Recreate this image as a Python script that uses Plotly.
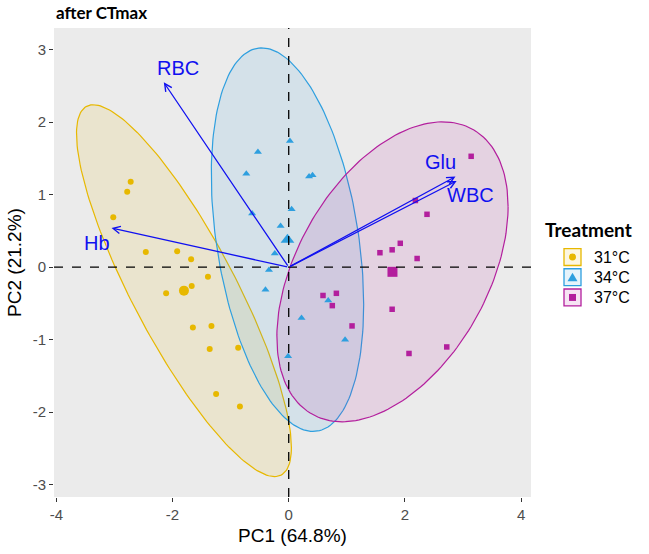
import numpy as np
import plotly.graph_objects as go

# ---------------- data ----------------
groups = ["31°C", "34°C", "37°C"]

pc1_31 = [-2.72, -2.78, -3.02, -2.46, -1.92, -1.68, -1.39, -2.11, -1.67, -1.65, -1.33, -1.36, -0.87, -1.25, -0.84]
pc2_31 = [1.18, 1.04, 0.69, 0.21, 0.22, 0.11, -0.13, -0.36, -0.26, -0.83, -0.81, -1.13, -1.11, -1.75, -1.92]

pc1_34 = [-0.53, -0.73, 0.02, 0.35, 0.41, 0.05, -0.63, -0.14, -0.24, -0.34, -0.40, 0.68, 0.22, -0.01, 0.97]
pc2_34 = [1.59, 1.29, 1.74, 1.25, 1.27, 0.80, 0.74, 0.57, 0.19, -0.04, -0.31, -0.46, -0.70, -1.23, -1.00]

pc1_37 = [3.14, 2.18, 2.38, 1.92, 1.78, 1.57, 2.21, 0.59, 0.82, 0.75, 1.78, 1.09, 2.72, 2.07]
pc2_37 = [1.53, 0.92, 0.73, 0.33, 0.24, 0.20, 0.12, -0.39, -0.36, -0.53, -0.58, -0.81, -1.10, -1.19]

# ellipse shape (covariance-like matrix: sxx, syy, sxy) per group
ell_sxx = [3.42, 1.72, 3.96]
ell_syy = [6.58, 7.00, 4.28]
ell_sxy = [-4.00, -1.17, 1.79]

# variable loadings (arrow tips)
var_names = ["RBC", "Hb", "Glu", "WBC"]
var_pc1 = [-2.15, -3.05, 2.87, 2.89]
var_pc2 = [2.55, 0.54, 1.25, 1.19]

x_ticks = [-4, -2, 0, 2, 4]
y_ticks = [-3, -2, -1, 0, 1, 2, 3]

# ---------------- style ----------------
colors = ["#E7B800", "#2E9FDF", "#B31F9D"]
fills = ["rgba(231,184,0,0.12)", "rgba(46,159,223,0.12)", "rgba(179,31,157,0.12)"]
symbols = ["circle", "triangle-up", "square"]
msize = [6, 7, 5.5]
csize = [10, 12, 10]
label_off = {"RBC": (0.25, 0.20), "Hb": (-0.25, -0.20), "Glu": (-0.25, 0.20), "WBC": (0.23, -0.20)}
arrow_col = "#1010F0"

xs = [pc1_31, pc1_34, pc1_37]
ys = [pc2_31, pc2_34, pc2_37]

fig = go.Figure()
t = np.linspace(0, 2 * np.pi, 200)
for i in range(3):
    cx, cy = np.mean(xs[i]), np.mean(ys[i])
    S = np.array([[ell_sxx[i], ell_sxy[i]], [ell_sxy[i], ell_syy[i]]])
    L = np.linalg.cholesky(S)
    pts = L @ np.vstack([np.cos(t), np.sin(t)])
    fig.add_trace(go.Scatter(x=cx + pts[0], y=cy + pts[1], mode="lines", fill="toself",
                             fillcolor=fills[i], line=dict(color=colors[i], width=1.2),
                             showlegend=False, hoverinfo="skip"))

for i in range(3):
    fig.add_trace(go.Scatter(x=xs[i], y=ys[i], mode="markers",
                             marker=dict(symbol=symbols[i], size=msize[i], color=colors[i]),
                             showlegend=False))
    fig.add_trace(go.Scatter(x=[np.mean(xs[i])], y=[np.mean(ys[i])], mode="markers",
                             marker=dict(symbol=symbols[i], size=csize[i], color=colors[i]),
                             showlegend=False))

# arrows
for n, vx, vy in zip(var_names, var_pc1, var_pc2):
    fig.add_annotation(x=vx, y=vy, ax=0, ay=0, xref="x", yref="y", axref="x", ayref="y",
                       text="", showarrow=True, arrowhead=5, arrowsize=1.1, arrowwidth=1.3,
                       arrowcolor=arrow_col, standoff=0)
    dx, dy = label_off[n]
    fig.add_annotation(x=vx + dx, y=vy + dy, xref="x", yref="y", text=n, showarrow=False,
                       font=dict(family="Liberation Sans, Arial", size=20, color=arrow_col))

# reference dashed lines
fig.add_shape(type="line", xref="paper", yref="y", x0=0, x1=1, y0=0, y1=0,
              line=dict(color="black", width=1.3, dash="dash"), layer="above")
fig.add_shape(type="line", xref="x", yref="paper", x0=0, x1=0, y0=0, y1=1,
              line=dict(color="black", width=1.3, dash="dash"), layer="above")

# title
fig.add_annotation(x=0, y=1.0, xref="paper", yref="paper", xanchor="left", yanchor="bottom",
                   yshift=3, text="<b>after CTmax</b>", showarrow=False,
                   font=dict(family="Lato", size=17, color="black"))

# manual legend
pw, ph = 477.0, 471.0
def px2paper(px, py):
    return (px - 54) / pw, (499 - py) / ph

tx, ty = px2paper(543, 230)
fig.add_annotation(x=tx, y=ty, xref="paper", yref="paper", xanchor="left", yanchor="middle",
                   text="<b>Treatment</b>", showarrow=False,
                   font=dict(family="Lato", size=19, color="black"))
for i, g in enumerate(groups):
    top = 249.5 + i * 20.3
    x0, y1 = px2paper(564, top)
    x1, y0 = px2paper(581, top + 17)
    fig.add_shape(type="rect", xref="paper", yref="paper", x0=x0, x1=x1, y0=y0, y1=y1,
                  line=dict(color=colors[i], width=1.3), fillcolor=fills[i])
    cxp, cyp = 572.5, top + 8.5
    if i == 0:
        a0, b1 = px2paper(cxp - 3.5, cyp - 3.5)
        a1, b0 = px2paper(cxp + 3.5, cyp + 3.5)
        fig.add_shape(type="circle", xref="paper", yref="paper", x0=a0, x1=a1, y0=b0, y1=b1,
                      line=dict(width=0), fillcolor=colors[i])
    elif i == 1:
        p1 = px2paper(cxp, cyp - 4.5)
        p2 = px2paper(cxp - 5, cyp + 4)
        p3 = px2paper(cxp + 5, cyp + 4)
        fig.add_shape(type="path", xref="paper", yref="paper",
                      path=f"M {p1[0]} {p1[1]} L {p2[0]} {p2[1]} L {p3[0]} {p3[1]} Z",
                      line=dict(width=0), fillcolor=colors[i])
    else:
        a0, b1 = px2paper(cxp - 3.5, cyp - 3.5)
        a1, b0 = px2paper(cxp + 3.5, cyp + 3.5)
        fig.add_shape(type="rect", xref="paper", yref="paper", x0=a0, x1=a1, y0=b0, y1=b1,
                      line=dict(width=0), fillcolor=colors[i])
    lx, ly = px2paper(592, top + 8.5)
    fig.add_annotation(x=lx, y=ly, xref="paper", yref="paper", xanchor="left", yanchor="middle",
                       text=g, showarrow=False,
                       font=dict(family="Liberation Sans, Arial", size=16, color="black"))

fig.update_layout(
    width=649, height=554,
    margin=dict(l=54, r=118, t=28, b=55),
    paper_bgcolor="white", plot_bgcolor="#EBEBEB",
    showlegend=False,
    xaxis=dict(range=[-4.04, 4.17], tickvals=x_ticks, ticktext=[str(v) for v in x_ticks],
               showgrid=False, zeroline=False, ticks="outside", ticklen=4, tickwidth=1.2,
               tickcolor="#333333", tickfont=dict(family="Liberation Sans, Arial", size=15, color="#4D4D4D"),
               title=dict(text="PC1 (64.8%)", font=dict(family="Liberation Sans, Arial", size=19, color="black"),
                          standoff=6)),
    yaxis=dict(range=[-3.17, 3.30], tickvals=y_ticks, ticktext=[str(v) for v in y_ticks],
               showgrid=False, zeroline=False, ticks="outside", ticklen=4, tickwidth=1.2,
               tickcolor="#333333", tickfont=dict(family="Liberation Sans, Arial", size=15, color="#4D4D4D"),
               title=dict(text="PC2 (21.2%)", font=dict(family="Liberation Sans, Arial", size=19, color="black"),
                          standoff=6)),
)

fig.write_html("out.html")
